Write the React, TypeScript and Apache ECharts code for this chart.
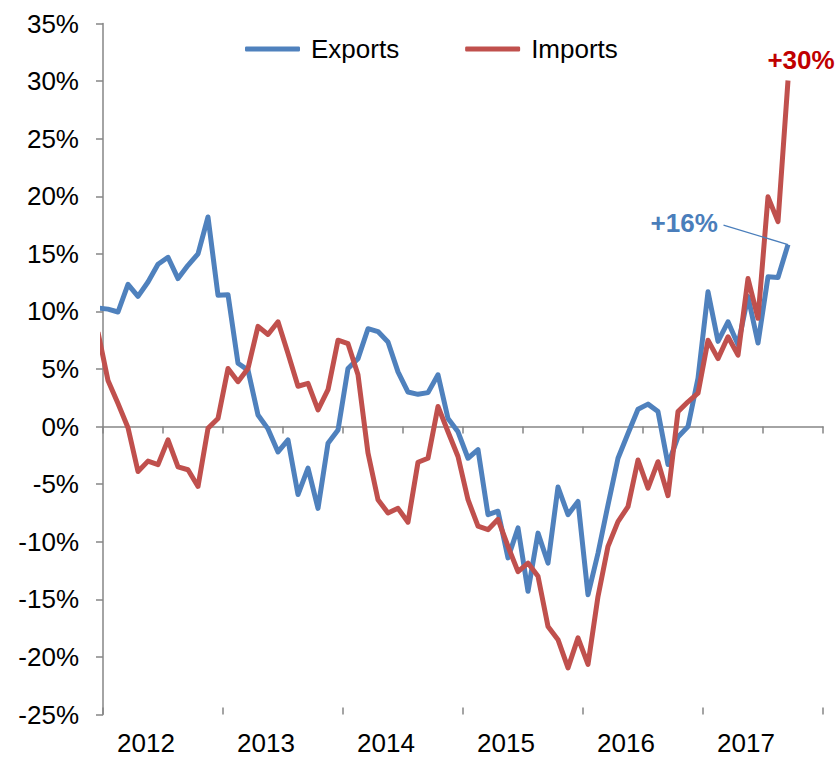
import React, { useEffect, useRef } from 'react';
import * as echarts from 'echarts';

// Monthly observations, Dec 2011 (clipped at the left edge) to Sep 2017
const months = [
  '2011-12',
  '2012-01', '2012-02', '2012-03', '2012-04', '2012-05', '2012-06', '2012-07', '2012-08', '2012-09', '2012-10', '2012-11', '2012-12',
  '2013-01', '2013-02', '2013-03', '2013-04', '2013-05', '2013-06', '2013-07', '2013-08', '2013-09', '2013-10', '2013-11', '2013-12',
  '2014-01', '2014-02', '2014-03', '2014-04', '2014-05', '2014-06', '2014-07', '2014-08', '2014-09', '2014-10', '2014-11', '2014-12',
  '2015-01', '2015-02', '2015-03', '2015-04', '2015-05', '2015-06', '2015-07', '2015-08', '2015-09', '2015-10', '2015-11', '2015-12',
  '2016-01', '2016-02', '2016-03', '2016-04', '2016-05', '2016-06', '2016-07', '2016-08', '2016-09', '2016-10', '2016-11', '2016-12',
  '2017-01', '2017-02', '2017-03', '2017-04', '2017-05', '2017-06', '2017-07', '2017-08', '2017-09',
];

const exportsYoY = [
  10.3,
  10.2, 9.95, 12.35, 11.3, 12.55, 14.1, 14.7, 12.85, 14.0, 15.0, 18.2, 11.4,
  11.45, 5.5, 4.9, 1.0, -0.2, -2.2, -1.15, -5.9, -3.6, -7.1, -1.45, -0.3,
  5.05, 5.9, 8.5, 8.25, 7.35, 4.75, 3.0, 2.8, 2.95, 4.5, 0.7, -0.45,
  -2.75, -2.0, -7.65, -7.35, -11.4, -8.8, -14.3, -9.25, -11.85, -5.25, -7.65, -6.5,
  -14.6, -11.0, -6.8, -2.75, -0.6, 1.5, 1.95, 1.3, -3.3, -0.9, 0.0, 4.2,
  11.7, 7.4, 9.1, 7.1, 11.3, 7.25, 13.0, 12.95, 15.8,
];

const importsYoY = [
  8.2,
  4.0, 2.0, -0.1, -3.9, -3.0, -3.3, -1.15, -3.5, -3.75, -5.2, -0.15, 0.7,
  5.05, 3.9, 5.05, 8.7, 8.0, 9.1, 6.35, 3.5, 3.75, 1.45, 3.2, 7.5,
  7.2, 4.5, -2.3, -6.35, -7.5, -7.1, -8.3, -3.1, -2.75, 1.75, -0.45, -2.6,
  -6.35, -8.65, -8.95, -8.05, -10.4, -12.6, -11.85, -13.0, -17.35, -18.5, -20.95, -18.35,
  -20.65, -14.75, -10.4, -8.25, -6.95, -2.9, -5.35, -3.05, -6.0, 1.3, 2.15, 2.9,
  7.5, 5.9, 7.8, 6.2, 12.85, 9.4, 19.95, 17.8, 30.05,
];

const years = ['2012', '2013', '2014', '2015', '2016', '2017'];

const FONT = '"Liberation Sans", Arial, Helvetica, sans-serif';
const BLUE = '#4f81bd';
const RED = '#c0504d';
const AXIS = '#868686';

export default function App() {
  const ref = useRef<HTMLDivElement>(null);

  useEffect(() => {
    const chart = echarts.init(ref.current as HTMLDivElement, null, { renderer: 'svg' });

    // x position: months since Jan 2012, point at mid-month
    const toPoints = (arr: number[]) => arr.map((v, i) => [i - 0.5, v]);
    const lastE = exportsYoY.length - 1;
    const lastI = importsYoY.length - 1;
    const lastEx = lastE - 0.5;
    const lastIx = lastI - 0.5;
    const fmtPct = (v: number) => '+' + Math.round(v) + '%';

    const tickStyle = { color: AXIS, width: 1.5 };

    chart.setOption({
      animation: false,
      grid: { left: 103, right: 16, top: 23.5, bottom: 42.5, containLabel: false },
      legend: {
        data: ['Exports', 'Imports'],
        left: 245,
        top: 36,
        padding: 0,
        icon: 'roundRect',
        itemWidth: 55,
        itemHeight: 5,
        itemGap: 66,
        textStyle: { fontSize: 26, fontFamily: FONT, color: '#000', padding: [0, 0, 0, 6] },
      },
      xAxis: [
        {
          type: 'value',
          min: 0,
          max: 72,
          interval: 12,
          position: 'bottom',
          axisLine: { show: true, onZero: true, lineStyle: tickStyle },
          axisTick: { show: true, length: 7, lineStyle: tickStyle },
          minorTick: { show: true, splitNumber: 2, length: 7, lineStyle: tickStyle },
          axisLabel: { show: false },
          splitLine: { show: false },
          minorSplitLine: { show: false },
        },
        {
          type: 'value',
          min: 0,
          max: 72,
          interval: 12,
          position: 'bottom',
          axisLine: { show: false, onZero: true },
          axisTick: { show: true, inside: true, length: 7, lineStyle: tickStyle },
          axisLabel: { show: false },
          splitLine: { show: false },
        },
        {
          type: 'category',
          data: years,
          position: 'bottom',
          boundaryGap: true,
          axisLine: { show: false, onZero: false },
          axisTick: { show: false },
          axisLabel: {
            fontSize: 26,
            lineHeight: 26,
            fontFamily: FONT,
            color: '#000',
            margin: 15,
            padding: [0, 34, 0, 0],
          },
          splitLine: { show: false },
        },
      ],
      yAxis: {
        type: 'value',
        min: -25,
        max: 35,
        interval: 5,
        axisLine: { show: true, lineStyle: tickStyle },
        axisTick: { show: true, length: 7, lineStyle: tickStyle },
        axisLabel: { formatter: '{value}%', fontSize: 26, fontFamily: FONT, color: '#000', margin: 24 },
        splitLine: { show: false },
      },
      series: [
        {
          name: 'Exports',
          type: 'line',
          xAxisIndex: 0,
          data: toPoints(exportsYoY),
          showSymbol: false,
          symbol: 'none',
          clip: true,
          lineStyle: { color: BLUE, width: 5, join: 'round' },
          itemStyle: { color: BLUE },
          markLine: {
            silent: true,
            symbol: ['none', 'none'],
            lineStyle: { color: '#4a7ebb', width: 1.3, type: 'solid' },
            label: {
              show: true,
              position: 'start',
              distance: 6,
              formatter: fmtPct(exportsYoY[lastE]),
              fontSize: 26,
              fontWeight: 'bold',
              fontFamily: FONT,
              color: '#4a7ebb',
            },
            data: [
              [
                { coord: [lastEx - 6.45, exportsYoY[lastE] + 1.7] },
                { coord: [lastEx, exportsYoY[lastE]] },
              ],
            ],
          },
        },
        {
          name: 'Imports',
          type: 'line',
          xAxisIndex: 0,
          data: toPoints(importsYoY),
          showSymbol: false,
          symbol: 'none',
          clip: true,
          lineStyle: { color: RED, width: 5, join: 'round' },
          itemStyle: { color: RED },
          markPoint: {
            silent: true,
            symbol: 'circle',
            symbolSize: 1,
            itemStyle: { color: 'rgba(0,0,0,0)' },
            label: {
              show: true,
              position: 'top',
              offset: [13, -2],
              formatter: fmtPct(importsYoY[lastI]),
              fontSize: 26,
              fontWeight: 'bold',
              fontFamily: FONT,
              color: '#c00000',
            },
            data: [{ coord: [lastIx, importsYoY[lastI]], value: importsYoY[lastI], name: months[lastI] }],
          },
        },
      ],
    });

    return () => {
      chart.dispose();
    };
  }, []);

  return (
    <div
      ref={ref}
      style={{ position: 'fixed', left: 0, top: 0, width: 839, height: 757, background: '#fff' }}
    />
  );
}
